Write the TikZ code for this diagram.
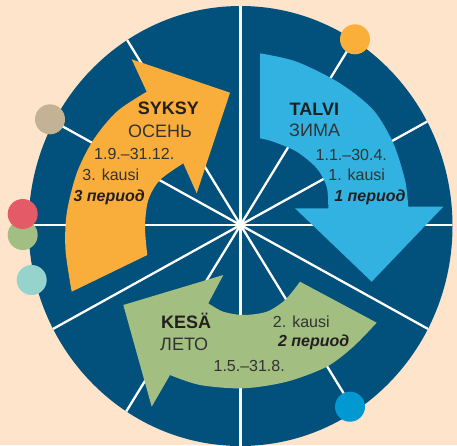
\documentclass[tikz,border=0pt]{standalone}
\usepackage{fontspec}
\setmainfont{Liberation Sans}
\definecolor{bgpeach}{HTML}{FDE4CB}
\definecolor{navy}{HTML}{02507C}
\definecolor{syksycol}{HTML}{F9AE3B}
\definecolor{talvicol}{HTML}{31B2E1}
\definecolor{kesacol}{HTML}{A2BE80}
\definecolor{dottan}{HTML}{C4B294}
\definecolor{dotred}{HTML}{E45B67}
\definecolor{dotgreen}{HTML}{A3BE82}
\definecolor{dotteal}{HTML}{96D3CD}
\definecolor{dotblue}{HTML}{0299D3}
\definecolor{dotorange}{HTML}{FBAF3B}
\definecolor{txtdark}{HTML}{231F20}
\definecolor{txtreg}{HTML}{333333}
\begin{document}
\begin{tikzpicture}[x=1pt,y=-1pt,
  spoke/.style={draw=white,line width=2.3pt},
  dot/.style={radius=15},
  ttl/.style={inner sep=0pt,text=txtdark,font=\fontsize{18}{20}\selectfont\bfseries},
  ttlru/.style={inner sep=0pt,text=txtreg,font=\fontsize{18}{20}\selectfont},
  small/.style={inner sep=0pt,text=txtreg,font=\fontsize{16}{18}\selectfont},
  per/.style={inner sep=0pt,text=txtdark,font=\fontsize{16}{18}\selectfont\bfseries\itshape}]
\useasboundingbox (0,0) rectangle (457,445);
\fill[bgpeach] (0,0) rectangle (457,445);
\coordinate (C) at (240.5,225);
\fill[navy] (240.5,226) ellipse [x radius=212, y radius=220];
\begin{scope}
  \clip (240.5,226) ellipse [x radius=212, y radius=220];
  \foreach \a in {0,29,58.5,90,121.5,151,180,209,238.5,270,301.5,331}
    \draw[spoke] (C) -- ++(\a:300);
\end{scope}
% SYKSY arrow (orange)
\fill[syksycol] plot[smooth] coordinates {(71.7,291.7)(65.5,250)(66.7,213.3)(76.7,173.3)(93.3,140)(116.7,111.7)(146.7,91.7)}
  -- (131.7,59.3) -- (230,92.7) -- (196.7,193.3) -- (183.3,163.3)
  -- plot[smooth] coordinates {(183.3,163.3)(160,180)(148.3,200)(145,226.7)(147.3,255)}
  -- cycle;
% TALVI arrow (light blue)
\fill[talvicol] plot[smooth] coordinates {(260,53.3)(296.7,61.7)(340,83.3)(373.3,110)(393.3,143.3)(405,180)(408.3,206.7)}
  -- (443.3,206.7) -- (371.7,281.7) -- (295,208.3) -- (328.3,208.3)
  -- plot[smooth] coordinates {(328.3,208.3)(326.7,186.7)(316.7,168.3)(296.7,151.7)(273.3,141.7)(260,138.3)}
  -- cycle;
% KESA arrow (green)
\fill[kesacol] plot[smooth] coordinates {(376.7,322.7)(353.3,346.7)(326.7,366.7)(286.7,381.7)(243.3,388.3)(200,385)(170,375)}
  -- (151.7,406.7) -- (123.3,305) -- (223.3,275) -- (208.3,303.3)
  -- plot[smooth] coordinates {(208.3,303.3)(223.3,311.7)(243.3,315)(266.7,311.7)(285,300)(300,281.7)}
  -- cycle;
% dots
\fill[dotorange] (355,39.3) circle[dot];
\fill[dotblue] (350,406.7) circle[dot];
\fill[dottan] (50,119.3) circle[dot];
\fill[dotgreen] (22.7,235) circle[dot];
\fill[dotred] (22.7,214) circle[dot];
\fill[dotteal] (31.7,280) circle[dot];
% texts SYKSY
\node[ttl,anchor=base] (syksy) at (168.3,114) {SYKSY};
\node[ttlru,anchor=base] (osen) at (160,137.3) {ОСЕНЬ};
\node[small,anchor=base] (d3) at (134.2,159.5) {1.9.–31.12.};
\node[small,anchor=base] (k3) at (110.8,180) {3. kausi};
\node[per,anchor=base] (p3) at (109.2,201) {3 период};
% texts TALVI
\node[ttl,anchor=base west] (talvi) at (289.5,115) {TALVI};
\node[ttlru,anchor=base west] (zima) at (289,136.7) {ЗИМА};
\node[small,anchor=base] (d1) at (351.3,160) {1.1.–30.4.};
\node[small,anchor=base] (k1) at (356.7,180) {1. kausi};
\node[per,anchor=base] (p1) at (370,201.7) {1 период};
% texts KESA
\node[ttl,anchor=base west] (kesa) at (161,328.3) {KESÄ};
\node[ttlru,anchor=base west] (leto) at (160,350.7) {ЛЕТО};
\node[small,anchor=base] (k2) at (301.3,327.3) {2. kausi};
\node[per,anchor=base] (p2) at (313.7,346.7) {2 период};
\node[small,anchor=base] (d2) at (249.2,371.7) {1.5.–31.8.};
\end{tikzpicture}
\end{document}
